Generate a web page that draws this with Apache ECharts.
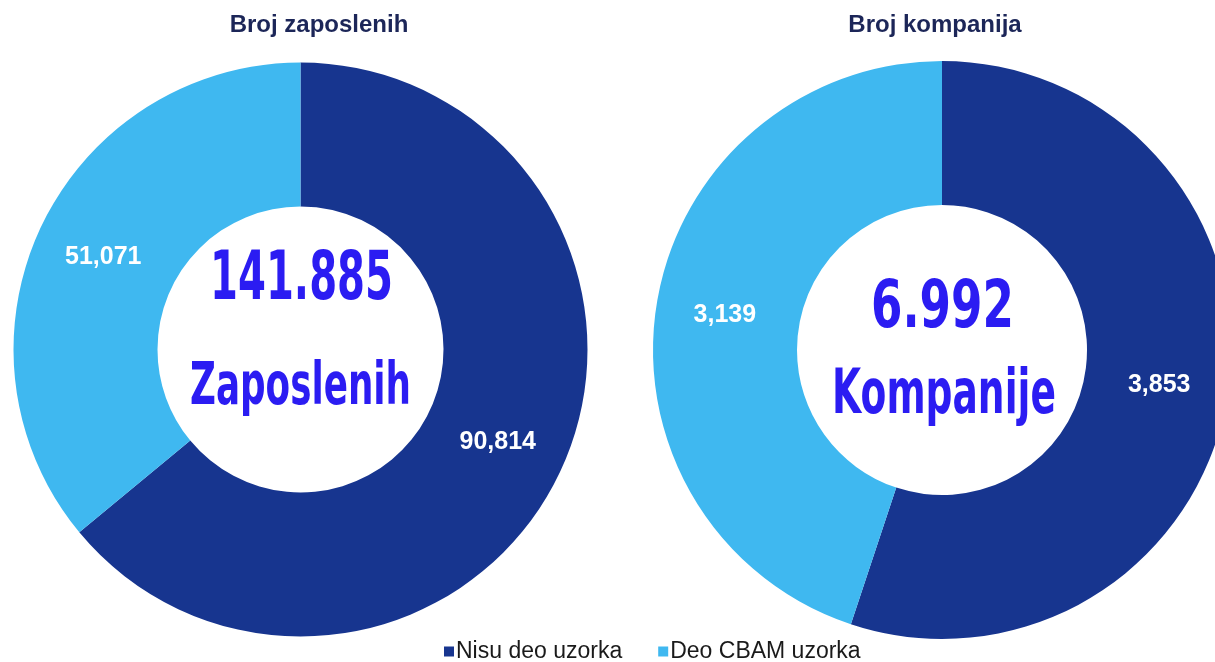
<!DOCTYPE html>
<html>
<head>
<meta charset="utf-8">
<script src="https://cdn.jsdelivr.net/npm/echarts@6/dist/echarts.min.js"></script>
<style>
  html, body { margin: 0; padding: 0; background: #fff; }
  #chart { width: 1215px; height: 662px; }
</style>
</head>
<body>
<div id="chart"></div>
<script>
// podaci
const categories = ['Nisu deo uzorka', 'Deo CBAM uzorka']
const employees = [90814, 51071]
const companies = [3853, 3139]
const chartTitles = ['Broj zaposlenih', 'Broj kompanija']
const centerNumbers = ['141.885', '6.992']
const centerWords = ['Zaposlenih', 'Kompanije']

const colors = ['#17358f', '#3fb8f0']
const centerColor = '#2b1cf2'

const chart = echarts.init(document.getElementById('chart'))

const labelStyle = {
  show: true,
  position: 'inside',
  color: '#fff',
  fontFamily: 'Liberation Sans',
  fontWeight: 'bold',
  fontSize: 25,
  formatter: p => p.value.toLocaleString('en-US')
}

// centralni tekst (sužen po širini)
const centerText = (text, x, y, size, scaleX) => ({
  type: 'text',
  x: x,
  y: y,
  scaleX: scaleX,
  silent: true,
  z: 100,
  style: {
    text: text,
    fill: centerColor,
    fontFamily: 'DejaVu Sans',
    fontWeight: 'bold',
    fontSize: size,
    align: 'center',
    verticalAlign: 'middle'
  }
})

const titleStyle = { color: '#1c2658', fontFamily: 'Liberation Sans', fontWeight: 'bold', fontSize: 24 }

const option = {
  backgroundColor: '#fff',
  animation: false,
  color: colors,
  title: [
    { text: chartTitles[0], left: 314, top: 8, textAlign: 'center', textStyle: titleStyle },
    { text: chartTitles[1], left: 930, top: 8, textAlign: 'center', textStyle: titleStyle }
  ],
  legend: {
    data: categories,
    left: 444,
    top: 640,
    padding: 0,
    icon: 'rect',
    itemWidth: 10,
    itemHeight: 10,
    itemGap: 36,
    textStyle: { color: '#1a1a1a', fontFamily: 'Liberation Sans', fontSize: 23, padding: [0, 0, 0, -3] }
  },
  series: [
    {
      name: chartTitles[0],
      type: 'pie',
      center: [300.5, 349.5],
      radius: [143, 287],
      startAngle: 90,
      clockwise: true,
      silent: true,
      label: labelStyle,
      labelLine: { show: false },
      data: categories.map((c, i) => ({ name: c, value: employees[i] }))
    },
    {
      name: chartTitles[1],
      type: 'pie',
      center: [942, 350],
      radius: [145, 289],
      startAngle: 90,
      clockwise: true,
      silent: true,
      label: labelStyle,
      labelLine: { show: false },
      data: categories.map((c, i) => ({ name: c, value: companies[i] }))
    }
  ],
  graphic: [
    centerText(centerNumbers[0], 301.5, 282, 67, 0.6),
    centerText(centerWords[0], 300.5, 389, 58, 0.616),
    centerText(centerNumbers[1], 942.5, 309.5, 66, 0.686),
    centerText(centerWords[1], 944, 397, 63, 0.597)
  ]
}

chart.setOption(option)
</script>
</body>
</html>
